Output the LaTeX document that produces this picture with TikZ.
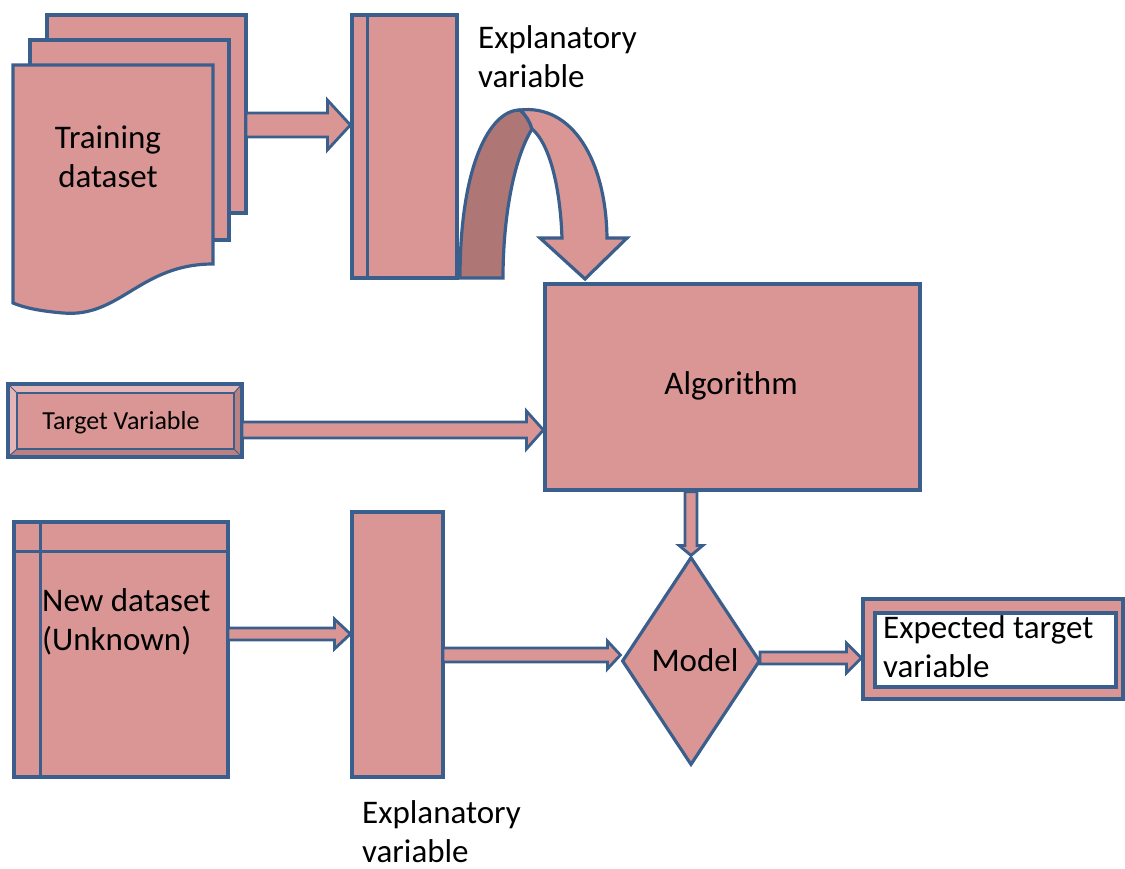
\documentclass[tikz,border=0pt]{standalone}
\usepackage{fontspec}
\setmainfont{Carlito}
\usetikzlibrary{calc,shapes.geometric}
\definecolor{fillc}{HTML}{D99694}
\definecolor{linec}{HTML}{3B5F8C}
\definecolor{darkc}{HTML}{AE7674}
\definecolor{lightc}{HTML}{E4B5B4}
\definecolor{bevdark}{HTML}{B98281}
\tikzset{
  blk/.style={draw=linec, fill=fillc, line width=3.2pt, line join=miter},
  barrow/.style={draw=linec, fill=fillc, line width=2.8pt, line join=miter},
  sep/.style={draw=linec, line width=3.2pt},
  txt/.style={font=\fontsize{33}{39}\selectfont, text=black, inner sep=0pt, align=left},
  smalltxt/.style={font=\fontsize{26}{30}\selectfont, text=black, inner sep=0pt},
}
% horizontal block arrow: source, tip, shaft half, head half, head length
\newcommand\hblockarrow[5]{%
  \path[barrow] let \p1=(#1), \p2=(#2) in
    (\x1,\y2+#3) -- (\x2-#5,\y2+#3) -- (\x2-#5,\y2+#4) -- (\x2,\y2)
    -- (\x2-#5,\y2-#4) -- (\x2-#5,\y2-#3) -- (\x1,\y2-#3) -- cycle;}
% vertical (downward) block arrow
\newcommand\vblockarrow[5]{%
  \path[barrow] let \p1=(#1), \p2=(#2) in
    (\x2-#3,\y1) -- (\x2-#3,\y2+#5) -- (\x2-#4,\y2+#5) -- (\x2,\y2)
    -- (\x2+#4,\y2+#5) -- (\x2+#3,\y2+#5) -- (\x2+#3,\y1) -- cycle;}
\begin{document}
\begin{tikzpicture}[x=1pt,y=-1pt]
\useasboundingbox (0,0) rectangle (1125,869);

% ---------- training dataset (stacked documents)
\path[blk] (47,15) rectangle (246,213);
\path[blk] (30,40) rectangle (229,240);
\path[blk] (13,65) -- (213,65) -- (213,264)
  .. controls (140,264) and (120,318) .. (63,313)
  .. controls (40,311) and (25,308) .. (13,303) -- cycle;
\node[txt, align=center] (train) at (108,157) {Training\\dataset};
\coordinate (trainR) at (246,125);

% ---------- explanatory variable (top)
\node[blk, minimum width=105, minimum height=263, inner sep=0pt] (expl1) at (404.5,146.5) {};
\draw[sep] ([xshift=17pt]expl1.north west) -- ([xshift=17pt]expl1.south west);
\node[txt, anchor=west] (expl1lab) at (478,57) {Explanatory\\variable};
\hblockarrow{trainR}{expl1.west |- trainR}{12}{25}{23}

% ---------- curved arrow
\path[blk, fill=darkc] (460,278) .. controls (460,165) and (490,110) .. (520,110)
  .. controls (526,115) and (530,122) .. (532,129)
  .. controls (513,160) and (503,220) .. (503,278) -- cycle;
\path[blk] (520,110) .. controls (572,104) and (606,160) .. (607,238)
  -- (627,238) -- (585,279) -- (540,238) -- (562,238)
  .. controls (560,182) and (548,142) .. (532,129)
  .. controls (530,122) and (526,115) .. (520,110) -- cycle;

% ---------- algorithm
\node[blk, minimum width=375, minimum height=206, inner sep=0pt] (alg) at (732.5,387) {};
\node[txt] (alglab) at (731,386) {Algorithm};

% ---------- target variable (bevelled)
\path[blk] (8,384) rectangle (242,457);
\fill[lightc] (8,384) -- (242,384) -- (234,393) -- (17,393) -- (17,449) -- (8,457) -- cycle;
\fill[bevdark] (242,384) -- (242,457) -- (8,457) -- (17,449) -- (234,449) -- (234,393) -- cycle;
\draw[linec, line width=1pt] (8,384) -- (17,393) (242,384) -- (234,393) (8,457) -- (17,449) (242,457) -- (234,449);
\path[draw=linec, fill=fillc, line width=2pt] (17,393) rectangle (234,449);
\draw[linec, line width=3.2pt] (8,384) rectangle (242,457);
\node[smalltxt] (tgt) at (121,423) {Target Variable};
\coordinate (tgtR) at (242,430);
\hblockarrow{tgtR}{alg.west |- tgtR}{8}{19}{17}

% ---------- new dataset
\node[blk, minimum width=214, minimum height=255, inner sep=0pt] (new) at (121,649.5) {};
\draw[sep] ([xshift=28pt]new.north west) -- ([xshift=28pt]new.south west);
\draw[sep] ([yshift=-31pt]new.north west) -- ([yshift=-31pt]new.north east);
\node[txt, anchor=west] (newlab) at (42,622) {New dataset\\(Unknown)};
\coordinate (newR) at (228,634);

% ---------- explanatory variable (bottom)
\node[blk, minimum width=91, minimum height=265, inner sep=0pt] (expl2) at (397.5,644.5) {};
\node[txt, anchor=west] (expl2lab) at (362,832) {Explanatory\\variable};
\hblockarrow{newR}{expl2.west |- newR}{6}{15}{16}

% ---------- model
\node[blk, diamond, minimum width=138, minimum height=208, inner sep=0pt] (model) at (691,661) {};
\node[txt] (modellab) at (695,660) {Model};
\coordinate (expl2R) at (443,655);
\hblockarrow{expl2R}{model.west |- expl2R}{7}{14}{13}
\vblockarrow{alg.south -| model.north}{model.north}{6}{12}{10}

% ---------- expected target variable
\node[blk, minimum width=260, minimum height=100, inner sep=0pt] (expout) at (993,649) {};
\node[draw=linec, fill=white, line width=3.2pt, minimum width=241, minimum height=74, inner sep=0pt] (exp) at (995.5,650) {};
\node[txt, anchor=west] (explab) at (883,647) {Expected target\\variable};
\coordinate (modelR) at (760,658);
\hblockarrow{modelR}{expout.west |- modelR}{6}{15}{15}
\end{tikzpicture}
\end{document}
